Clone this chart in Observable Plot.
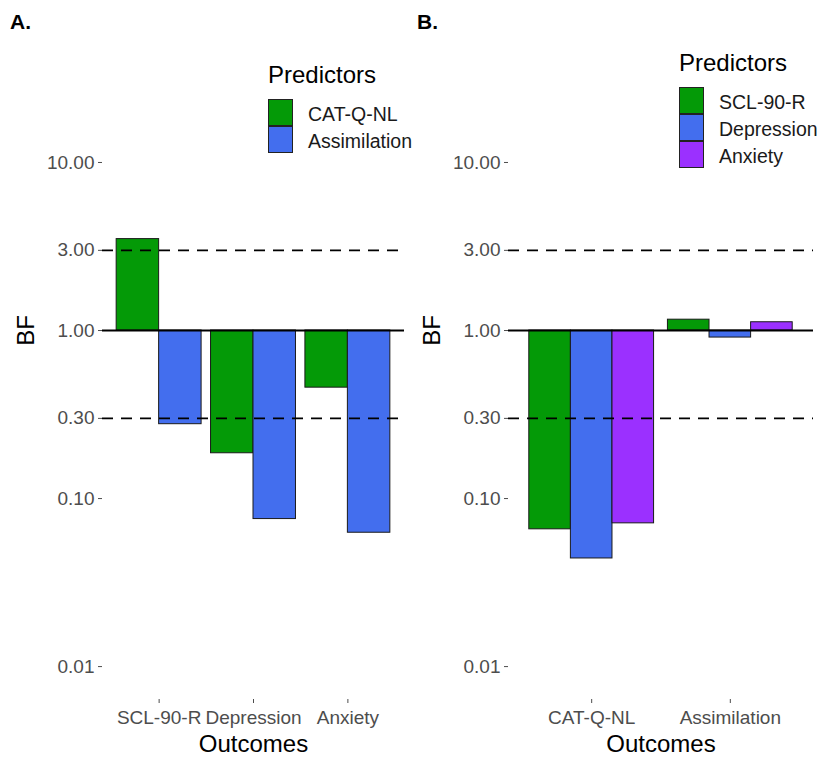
<!DOCTYPE html>
<html>
<head>
<meta charset="utf-8">
<script src="https://cdn.jsdelivr.net/npm/d3@7"></script>
<script src="https://cdn.jsdelivr.net/npm/@observablehq/plot@0.6"></script>
<style>
  html, body { margin: 0; padding: 0; background: #fff; }
  #wrap { position: relative; width: 819px; height: 757px; overflow: hidden; background: #fff;
          font-family: "Liberation Sans", Arial, sans-serif; }
  .panel { position: absolute; top: 0; }
  .tag { position: absolute; font-weight: bold; font-size: 21px; line-height: 21px; color: #000; }
  .legend { position: absolute; }
  .legend .title { font-size: 24px; line-height: 24px; color: #000; margin-bottom: 12px; white-space: nowrap; }
  .legend .row { display: flex; align-items: center; height: 27px; }
  .legend .key { width: 23px; height: 25px; border: 1px solid #222; box-sizing: content-box; }
  .legend .lab { font-size: 19.5px; color: #1a1a1a; margin-left: 15px; white-space: nowrap; position: relative; top: 2px; }
</style>
</head>
<body>
<div id="wrap"></div>
<script>
// ---------- data ----------
// Panel A: outcomes on x, predictors dodged
const outcomesA = ["SCL-90-R", "Depression", "Anxiety"];
const predictorsA = ["CAT-Q-NL", "Assimilation"];
const bfA_CATQ = [3.5, 0.186, 0.457];
const bfA_Assimilation = [0.277, 0.0755, 0.0626];

// Panel B
const outcomesB = ["CAT-Q-NL", "Assimilation"];
const predictorsB = ["SCL-90-R", "Depression", "Anxiety"];
const bfB_SCL = [0.0656, 1.16];
const bfB_Depression = [0.044, 0.908];
const bfB_Anxiety = [0.0712, 1.12];

// axis / reference values
const yTicks = [0.01, 0.1, 0.3, 1, 3, 10];
const baseline = 1;
const thresholds = [0.3, 3];
const yDomain = [0.00637, 15.5];

const colorsA = ["#049a07", "#436eee"];
const colorsB = ["#049a07", "#436eee", "#9b30ff"];

// ---------- build ----------
// dodge like ggplot position_dodge (bar width 0.9 of a group unit)
const groupWidth = 0.9;
function rows(outcomes, predictors, series) {
  const out = [];
  const w = groupWidth / predictors.length;
  outcomes.forEach((o, i) => predictors.forEach((p, j) => {
    const x1 = (i + 1) - groupWidth / 2 + j * w;
    out.push({outcome: o, predictor: p, bf: series[j][i], x1, x2: x1 + w});
  }));
  return out;
}

const font = '"Liberation Sans", Arial, sans-serif';

function panel({outcomes, predictors, series, colors, width, marginLeft, marginRight}) {
  const positions = outcomes.map((d, i) => i + 1);
  return Plot.plot({
    width, height: 757,
    marginTop: 130, marginBottom: 58, marginLeft, marginRight,
    style: {fontFamily: font, background: "transparent", overflow: "visible"},
    x: {domain: [0.4, outcomes.length + 0.6], axis: null},
    y: {type: "log", domain: yDomain, axis: null},
    color: {domain: predictors, range: colors},
    marks: [
      Plot.rectY(rows(outcomes, predictors, series), {
        x1: "x1", x2: "x2", y1: baseline, y2: "bf",
        fill: "predictor", stroke: "#1a1a1a", strokeWidth: 1
      }),
      Plot.ruleY(thresholds, {stroke: "#000", strokeWidth: 1.8, strokeDasharray: "11,8"}),
      Plot.ruleY([baseline], {stroke: "#000", strokeWidth: 1.8}),
      Plot.axisY(yTicks, {tickFormat: d3.format(".2f"), tickSize: 4, tickPadding: 4,
        fontSize: 19, fill: "#4d4d4d", stroke: "#4d4d4d", label: null}),
      Plot.axisX(positions, {anchor: "bottom", tickFormat: (d) => outcomes[d - 1], tickSize: 4, tickPadding: 7,
        fontSize: 19, fill: "#4d4d4d", stroke: "#4d4d4d", label: null}),
      Plot.text(["Outcomes"], {frameAnchor: "bottom", lineAnchor: "middle", dy: 45, fontSize: 24, fill: "#000"}),
      Plot.text(["BF"], {frameAnchor: "top-left", lineAnchor: "middle", textAnchor: "middle",
        dx: -76, dy: 200, rotate: -90, fontSize: 24, fill: "#000"})
    ]
  });
}

function legend(left, top, title, predictors, colors) {
  const div = document.createElement("div");
  div.className = "legend";
  div.style.left = left + "px";
  div.style.top = top + "px";
  const t = document.createElement("div");
  t.className = "title"; t.textContent = title;
  div.appendChild(t);
  predictors.forEach((p, i) => {
    const r = document.createElement("div"); r.className = "row";
    const k = document.createElement("div"); k.className = "key"; k.style.background = colors[i];
    const l = document.createElement("div"); l.className = "lab"; l.textContent = p;
    r.appendChild(k); r.appendChild(l); div.appendChild(r);
  });
  return div;
}

const wrap = document.getElementById("wrap");

const pA = panel({outcomes: outcomesA, predictors: predictorsA, series: [bfA_CATQ, bfA_Assimilation],
  colors: colorsA, width: 410, marginLeft: 102, marginRight: 6});
pA.classList.add("panel"); pA.style.left = "0px";
wrap.appendChild(pA);

const pB = panel({outcomes: outcomesB, predictors: predictorsB, series: [bfB_SCL, bfB_Depression, bfB_Anxiety],
  colors: colorsB, width: 409, marginLeft: 98, marginRight: 6});
pB.classList.add("panel"); pB.style.left = "410px";
wrap.appendChild(pB);

const tA = document.createElement("div"); tA.className = "tag"; tA.textContent = "A.";
tA.style.left = "10px"; tA.style.top = "11px"; wrap.appendChild(tA);
const tB = document.createElement("div"); tB.className = "tag"; tB.textContent = "B.";
tB.style.left = "417px"; tB.style.top = "11px"; wrap.appendChild(tB);

wrap.appendChild(legend(268, 63, "Predictors", predictorsA, pA.scale("color").range));
wrap.appendChild(legend(679, 51, "Predictors", predictorsB, pB.scale("color").range));
</script>
</body>
</html>
